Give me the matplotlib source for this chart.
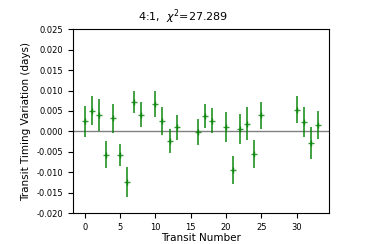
import numpy as np
import matplotlib
matplotlib.use("Agg")
import matplotlib.pyplot as plt

# transit epochs and timing residuals (days)
epoch = [0, 1, 2, 3, 4, 5, 6, 7, 8, 10, 11, 12, 13, 16, 17, 18,
         20, 21, 22, 23, 24, 25, 30, 31, 32, 33]
ttv = [0.0025, 0.0051, 0.0041, -0.0057, 0.0032, -0.0057, -0.0124, 0.0072,
       0.0041, 0.0067, 0.0025, -0.0024, 0.0010, -0.0002, 0.0037, 0.0026,
       0.0011, -0.0094, 0.0006, 0.0019, -0.0055, 0.0039, 0.0053, 0.0023,
       -0.0028, 0.0016]
err = [0.0038, 0.0036, 0.0039, 0.0033, 0.0035, 0.0027, 0.0037, 0.0028,
       0.0030, 0.0033, 0.0034, 0.0030, 0.0031, 0.0032, 0.0029, 0.0030,
       0.0036, 0.0034, 0.0037, 0.0040, 0.0035, 0.0033, 0.0033, 0.0036,
       0.0039, 0.0035]

plt.rcParams['font.size'] = 7

fig = plt.figure(figsize=(3.66, 2.44), dpi=100)
ax = fig.add_subplot(111)
fig.subplots_adjust(left=0.2, right=0.9, top=0.88, bottom=0.127)

ax.axhline(0, color='gray', lw=1)
ax.errorbar(epoch, ttv, yerr=err, fmt='+', color='green', alpha=0.8,
            ms=5, elinewidth=1.3)

ax.set_ylim(-0.02, 0.025)
ax.set_yticks(np.arange(-0.02, 0.0251, 0.005))
ax.yaxis.set_major_formatter(matplotlib.ticker.FormatStrFormatter('%.3f'))
ax.tick_params(labelsize=6)
ax.set_xlabel("Transit Number", fontsize=7.5, labelpad=1)
ax.set_ylabel("Transit Timing Variation (days)", fontsize=7.5)
ax.set_title(r"4:1,  $\chi^2$=27.289", fontsize=8, x=0.43)

fig.savefig("out.png", dpi=100)
